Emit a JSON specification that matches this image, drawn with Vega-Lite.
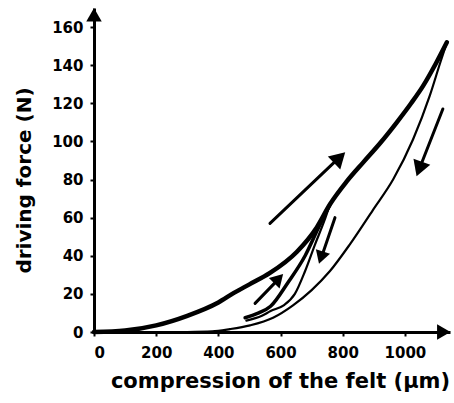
{
  "$schema": "https://vega.github.io/schema/vega-lite/v6.json",
  "autosize": "none",
  "width": 356,
  "height": 324,
  "padding": {"left": 94, "top": 8, "right": 4, "bottom": 71},
  "background": "white",
  "config": {
    "view": {"stroke": null},
    "axis": {
      "domainColor": "black", "domainWidth": 3, "tickColor": "black", "tickWidth": 2, "tickSize": 4,
      "labelFont": "DejaVu Sans", "labelFontWeight": "bold", "labelFontSize": 15, "labelColor": "black",
      "titleFont": "DejaVu Sans", "titleFontWeight": "bold", "titleFontSize": 20, "titleColor": "black",
      "grid": false
    }
  },
  "datasets": {
    "curves": [
      {"series": "load", "x": 0, "y": 0},
      {"series": "load", "x": 100, "y": 0.8},
      {"series": "load", "x": 200, "y": 3.5},
      {"series": "load", "x": 300, "y": 8.5},
      {"series": "load", "x": 400, "y": 15.5},
      {"series": "load", "x": 450, "y": 20.5},
      {"series": "load", "x": 500, "y": 25},
      {"series": "load", "x": 566, "y": 31},
      {"series": "load", "x": 652, "y": 42},
      {"series": "load", "x": 717, "y": 55},
      {"series": "load", "x": 759, "y": 67},
      {"series": "load", "x": 813, "y": 79},
      {"series": "load", "x": 866, "y": 89},
      {"series": "load", "x": 920, "y": 99},
      {"series": "load", "x": 974, "y": 110},
      {"series": "load", "x": 1020, "y": 120},
      {"series": "load", "x": 1058, "y": 129},
      {"series": "load", "x": 1100, "y": 141},
      {"series": "load", "x": 1135, "y": 152},
      {"series": "unload", "x": 1135, "y": 152},
      {"series": "unload", "x": 1113, "y": 141},
      {"series": "unload", "x": 1080, "y": 124},
      {"series": "unload", "x": 1026, "y": 101},
      {"series": "unload", "x": 962, "y": 80},
      {"series": "unload", "x": 897, "y": 64},
      {"series": "unload", "x": 823, "y": 46},
      {"series": "unload", "x": 759, "y": 32},
      {"series": "unload", "x": 700, "y": 22},
      {"series": "unload", "x": 640, "y": 14},
      {"series": "unload", "x": 576, "y": 7.5},
      {"series": "unload", "x": 502, "y": 3.5},
      {"series": "unload", "x": 437, "y": 1.5},
      {"series": "unload", "x": 380, "y": 0.3},
      {"series": "unload", "x": 300, "y": 0},
      {"series": "inner_up", "x": 486, "y": 7.5},
      {"series": "inner_up", "x": 530, "y": 10},
      {"series": "inner_up", "x": 568, "y": 13.5},
      {"series": "inner_up", "x": 624, "y": 26},
      {"series": "inner_up", "x": 679, "y": 40},
      {"series": "inner_up", "x": 720, "y": 54},
      {"series": "inner_up", "x": 759, "y": 67},
      {"series": "inner_down", "x": 759, "y": 67},
      {"series": "inner_down", "x": 740, "y": 58},
      {"series": "inner_down", "x": 711, "y": 46},
      {"series": "inner_down", "x": 679, "y": 32},
      {"series": "inner_down", "x": 646, "y": 20},
      {"series": "inner_down", "x": 610, "y": 14},
      {"series": "inner_down", "x": 568, "y": 11},
      {"series": "inner_down", "x": 540, "y": 8.5},
      {"series": "inner_down", "x": 490, "y": 6}
    ],
    "arrows": [
      {"x": 566, "y": 57, "x2": 792, "y2": 92},
      {"x": 1122, "y": 117, "x2": 1045, "y2": 85},
      {"x": 518, "y": 15, "x2": 595, "y2": 28},
      {"x": 775, "y": 60, "x2": 731, "y2": 39}
    ],
    "heads": [
      {"kind": "up", "size": "big", "x": 790, "y": 91.5},
      {"kind": "down", "size": "big", "x": 1046, "y": 85.5},
      {"kind": "up", "size": "small", "x": 594, "y": 28},
      {"kind": "down", "size": "small", "x": 730, "y": 39}
    ],
    "axisheads": [
      {"kind": "xend", "x": 1125, "y": 0},
      {"kind": "yend", "x": 0, "y": 166.5}
    ]
  },
  "encoding": {
    "x": {"field": "x", "type": "quantitative", "scale": {"domain": [0, 1145], "nice": false},
      "axis": {"values": [0, 200, 400, 600, 800, 1000], "format": "d", "title": "compression of the felt (µm)", "labelPadding": 9, "titlePadding": 10, "titleFontSize": 21, "titleX": 186}},
    "y": {"field": "y", "type": "quantitative", "scale": {"domain": [0, 170], "nice": false},
      "axis": {"values": [0, 20, 40, 60, 80, 100, 120, 140, 160], "format": "d", "title": "driving force (N)", "labelPadding": 7, "titlePadding": 17, "titleY": 172}}
  },
  "layer": [
    {"data": {"name": "curves"}, "transform": [{"filter": {"field": "series", "equal": "load"}}],
      "mark": {"type": "line", "color": "black", "strokeWidth": 4.5, "strokeCap": "round", "strokeJoin": "round", "interpolate": "monotone"},
      "encoding": {}},
    {"data": {"name": "curves"}, "transform": [{"filter": {"field": "series", "equal": "unload"}}],
      "mark": {"type": "line", "color": "black", "strokeWidth": 2.2, "strokeCap": "round", "strokeJoin": "round", "interpolate": "monotone"},
      "encoding": {}},
    {"data": {"name": "curves"}, "transform": [{"filter": {"field": "series", "equal": "inner_up"}}],
      "mark": {"type": "line", "color": "black", "strokeWidth": 3.5, "strokeCap": "round", "strokeJoin": "round", "interpolate": "monotone"},
      "encoding": {}},
    {"data": {"name": "curves"}, "transform": [{"filter": {"field": "series", "equal": "inner_down"}}],
      "mark": {"type": "line", "color": "black", "strokeWidth": 2.2, "strokeCap": "round", "strokeJoin": "round", "interpolate": "monotone"},
      "encoding": {}},
    {"data": {"name": "arrows"},
      "mark": {"type": "rule", "color": "black", "strokeWidth": 3, "strokeCap": "round"},
      "encoding": {"x2": {"field": "x2"}, "y2": {"field": "y2"}}},
    {"data": {"name": "heads"}, "transform": [{"filter": "datum.kind == 'up' && datum.size == 'big'"}],
      "mark": {"type": "point", "shape": "triangle-up", "filled": true, "color": "black", "opacity": 1, "size": 320, "angle": 46},
      "encoding": {}},
    {"data": {"name": "heads"}, "transform": [{"filter": "datum.kind == 'down' && datum.size == 'big'"}],
      "mark": {"type": "point", "shape": "triangle-up", "filled": true, "color": "black", "opacity": 1, "size": 320, "angle": 200},
      "encoding": {}},
    {"data": {"name": "heads"}, "transform": [{"filter": "datum.kind == 'up' && datum.size == 'small'"}],
      "mark": {"type": "point", "shape": "triangle-up", "filled": true, "color": "black", "opacity": 1, "size": 220, "angle": 44},
      "encoding": {}},
    {"data": {"name": "heads"}, "transform": [{"filter": "datum.kind == 'down' && datum.size == 'small'"}],
      "mark": {"type": "point", "shape": "triangle-up", "filled": true, "color": "black", "opacity": 1, "size": 220, "angle": 198},
      "encoding": {}},
    {"data": {"name": "axisheads"}, "transform": [{"filter": {"field": "kind", "equal": "xend"}}],
      "mark": {"type": "point", "shape": "triangle-up", "filled": true, "color": "black", "opacity": 1, "size": 240, "angle": 90, "clip": false},
      "encoding": {}},
    {"data": {"name": "axisheads"}, "transform": [{"filter": {"field": "kind", "equal": "yend"}}],
      "mark": {"type": "point", "shape": "triangle-up", "filled": true, "color": "black", "opacity": 1, "size": 240, "angle": 0, "clip": false},
      "encoding": {}}
  ]
}
